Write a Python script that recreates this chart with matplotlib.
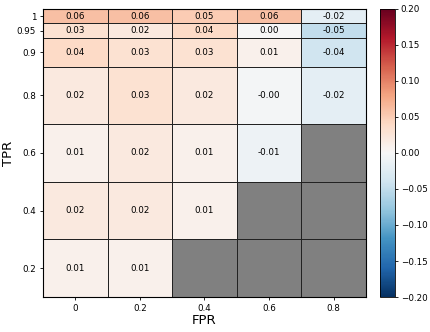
import numpy as np
import matplotlib
matplotlib.use('Agg')
import matplotlib.pyplot as plt

# Data
fpr_labels = ["0", "0.2", "0.4", "0.6", "0.8"]
tpr_labels = ["0.2", "0.4", "0.6", "0.8", "0.9", "0.95", "1"]
nan = np.nan
diff_02 = [0.01, 0.01, nan, nan, nan]
diff_04 = [0.02, 0.02, 0.01, nan, nan]
diff_06 = [0.01, 0.02, 0.01, -0.01, nan]
diff_08 = [0.02, 0.03, 0.02, -0.004, -0.02]
diff_09 = [0.04, 0.03, 0.03, 0.01, -0.04]
diff_095 = [0.03, 0.02, 0.04, 0.00, -0.05]
diff_1 = [0.06, 0.06, 0.05, 0.06, -0.02]

values = np.array([diff_02, diff_04, diff_06, diff_08, diff_09, diff_095, diff_1])

# row edges: uneven heights like the original
y_edges = np.array([0.1, 0.3, 0.5, 0.7, 0.9, 1.0, 1.05, 1.1])
x_edges = np.arange(len(fpr_labels) + 1) * 0.2 - 0.1
y_centers = (y_edges[:-1] + y_edges[1:]) / 2
x_centers = (x_edges[:-1] + x_edges[1:]) / 2

fig = plt.figure(figsize=(4.3, 3.32), dpi=100)
ax = fig.add_axes([0.1, 0.1054, 0.751, 0.8676])
cax = fig.add_axes([0.884, 0.1054, 0.035, 0.8676])

cmap = plt.get_cmap('RdBu_r').copy()
cmap.set_bad('#808080')
mesh = ax.pcolormesh(x_edges, y_edges, np.ma.masked_invalid(values), cmap=cmap,
                     vmin=-0.2, vmax=0.2, edgecolors='#222222', linewidth=0.7)

for i, yc in enumerate(y_centers):
    for j, xc in enumerate(x_centers):
        v = values[i, j]
        if not np.isnan(v):
            ax.text(xc, yc, f"{v:.2f}", ha='center', va='center', fontsize=6.3)

ax.set_xlim(x_edges[0], x_edges[-1])
ax.set_ylim(y_edges[0], y_edges[-1])
ax.set_xticks(x_centers)
ax.set_xticklabels(fpr_labels)
ax.set_yticks(y_centers)
ax.set_yticklabels(tpr_labels)
ax.tick_params(labelsize=6.3, length=2.5, width=0.6, pad=2.5)
ax.set_xlabel('FPR', fontsize=9.5, labelpad=1)
ax.set_ylabel('TPR', fontsize=9.5, labelpad=1)

cb = fig.colorbar(mesh, cax=cax)
cb.set_ticks(np.arange(-0.2, 0.201, 0.05))
cb.ax.tick_params(labelsize=6.3, length=2.5, width=0.6, pad=1.5)
cb.outline.set_linewidth(0.6)

fig.savefig('out.png', dpi=100)
